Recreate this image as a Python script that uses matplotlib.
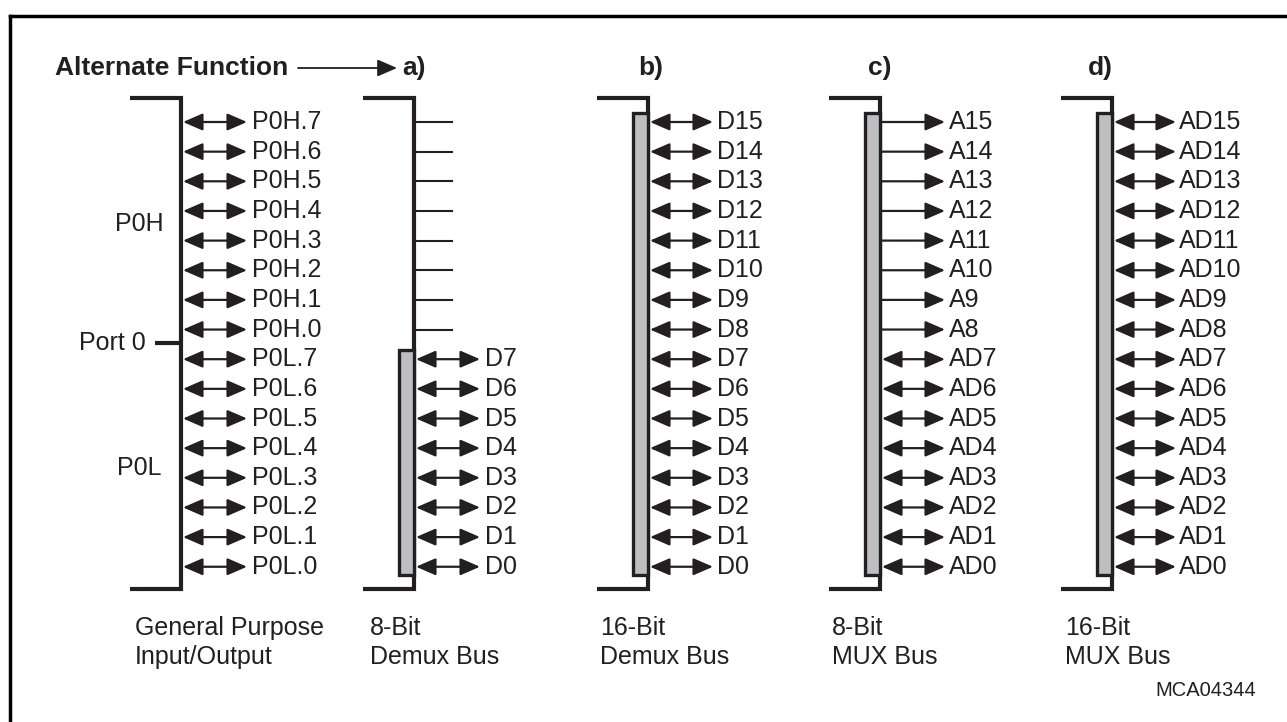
import matplotlib.pyplot as plt
from matplotlib.patches import FancyArrowPatch, Rectangle, ArrowStyle

plt.rcParams['font.family'] = ['Liberation Sans', 'DejaVu Sans']

INK = "#231f20"
GRAY = "#bcbec0"

# pin labels, top row first
gpio_pins = ["P0H.7", "P0H.6", "P0H.5", "P0H.4", "P0H.3", "P0H.2", "P0H.1", "P0H.0",
             "P0L.7", "P0L.6", "P0L.5", "P0L.4", "P0L.3", "P0L.2", "P0L.1", "P0L.0"]
demux8_pins = [None] * 8 + ["D7", "D6", "D5", "D4", "D3", "D2", "D1", "D0"]
demux16_pins = ["D15", "D14", "D13", "D12", "D11", "D10", "D9", "D8",
                "D7", "D6", "D5", "D4", "D3", "D2", "D1", "D0"]
mux8_pins = ["A15", "A14", "A13", "A12", "A11", "A10", "A9", "A8",
             "AD7", "AD6", "AD5", "AD4", "AD3", "AD2", "AD1", "AD0"]
mux16_pins = ["AD15", "AD14", "AD13", "AD12", "AD11", "AD10", "AD9", "AD8",
              "AD7", "AD6", "AD5", "AD4", "AD3", "AD2", "AD1", "AD0"]
# 'bi' = bidirectional, 'out' = output only
mux8_dirs = ["out"] * 8 + ["bi"] * 8

panel_tags = ["a)", "b)", "c)", "d)"]
captions = [("General Purpose", "Input/Output"), ("8-Bit", "Demux Bus"),
            ("16-Bit", "Demux Bus"), ("8-Bit", "MUX Bus"), ("16-Bit", "MUX Bus")]

fig = plt.figure(figsize=(12.87, 7.22), dpi=100)
ax = fig.add_axes([0, 0, 1, 1])
ax.set_xlim(0, 1287)
ax.set_ylim(722, 0)
ax.axis("off")

FS = 18
row_y = [122 + i * 29.65 for i in range(16)]
TOP, BOT = 98, 589


def dbl_arrow(x0, x1, y, style="<|-|>", lw=1.6):
    st = ArrowStyle(style, head_length=12.0, head_width=5.2)
    ax.add_patch(FancyArrowPatch((x0, y), (x1, y), arrowstyle=st, mutation_scale=1,
                                 color=INK, lw=lw, shrinkA=0, shrinkB=0))


def bracket(xr, bar_top=None):
    ax.plot([xr - 51, xr, xr, xr - 51], [TOP, TOP, BOT, BOT], color=INK, lw=3,
            solid_joinstyle="miter", solid_capstyle="butt")
    if bar_top is not None:
        ax.add_patch(Rectangle((xr - 15, bar_top), 15, 575 - bar_top, facecolor=GRAY,
                               edgecolor=INK, lw=2.4, zorder=3))


# frame (top and left edges visible)
ax.plot([10, 1287], [16, 16], color="black", lw=2.5)
ax.plot([10, 10], [16, 722], color="black", lw=2.5)

# title line
ax.text(55, 68, "Alternate Function", fontsize=19, fontweight="bold", color=INK, va="center")
dbl_arrow(298, 397, 68, style="-|>", lw=1.3)
tag_x = [402, 638, 868, 1088]
for tx, tag in zip(tag_x, panel_tags):
    ax.text(tx, 68, tag, fontsize=19, fontweight="bold", color=INK, va="center")

# GPIO column
bracket(181)
ax.plot([155, 181], [343, 343], color=INK, lw=3, solid_capstyle="butt")
ax.text(146, 343, "Port 0", fontsize=FS, color=INK, ha="right", va="center")
ax.text(139, 224, "P0H", fontsize=FS, color=INK, ha="center", va="center")
ax.text(139, 468, "P0L", fontsize=FS, color=INK, ha="center", va="center")
for y, lab in zip(row_y, gpio_pins):
    dbl_arrow(183, 247, y)
    ax.text(252, y, lab, fontsize=FS, color=INK, va="center")

# a) 8-bit demux
bracket(414, bar_top=350)
for y, lab in zip(row_y, demux8_pins):
    if lab is None:
        ax.plot([415, 452], [y, y], color=INK, lw=1.5)
    else:
        dbl_arrow(416, 480, y)
        ax.text(485, y, lab, fontsize=FS, color=INK, va="center")

# b) 16-bit demux
bracket(648, bar_top=113)
for y, lab in zip(row_y, demux16_pins):
    dbl_arrow(650, 713, y)
    ax.text(717, y, lab, fontsize=FS, color=INK, va="center")

# c) 8-bit mux
bracket(880, bar_top=113)
for y, lab, d in zip(row_y, mux8_pins, mux8_dirs):
    if d == "out":
        dbl_arrow(881, 945, y, style="-|>")
    else:
        dbl_arrow(882, 945, y)
    ax.text(949, y, lab, fontsize=FS, color=INK, va="center")

# d) 16-bit mux
bracket(1112, bar_top=113)
for y, lab in zip(row_y, mux16_pins):
    dbl_arrow(1114, 1176, y)
    ax.text(1179, y, lab, fontsize=FS, color=INK, va="center")

# captions
cap_x = [135, 370, 600, 832, 1065]
for cx, (l1, l2) in zip(cap_x, captions):
    ax.text(cx, 628, l1, fontsize=FS, color=INK, va="center")
    ax.text(cx, 657, l2, fontsize=FS, color=INK, va="center")
ax.text(1155, 690, "MCA04344", fontsize=14.5, color=INK, va="center")

fig.savefig("out.png", dpi=100)
